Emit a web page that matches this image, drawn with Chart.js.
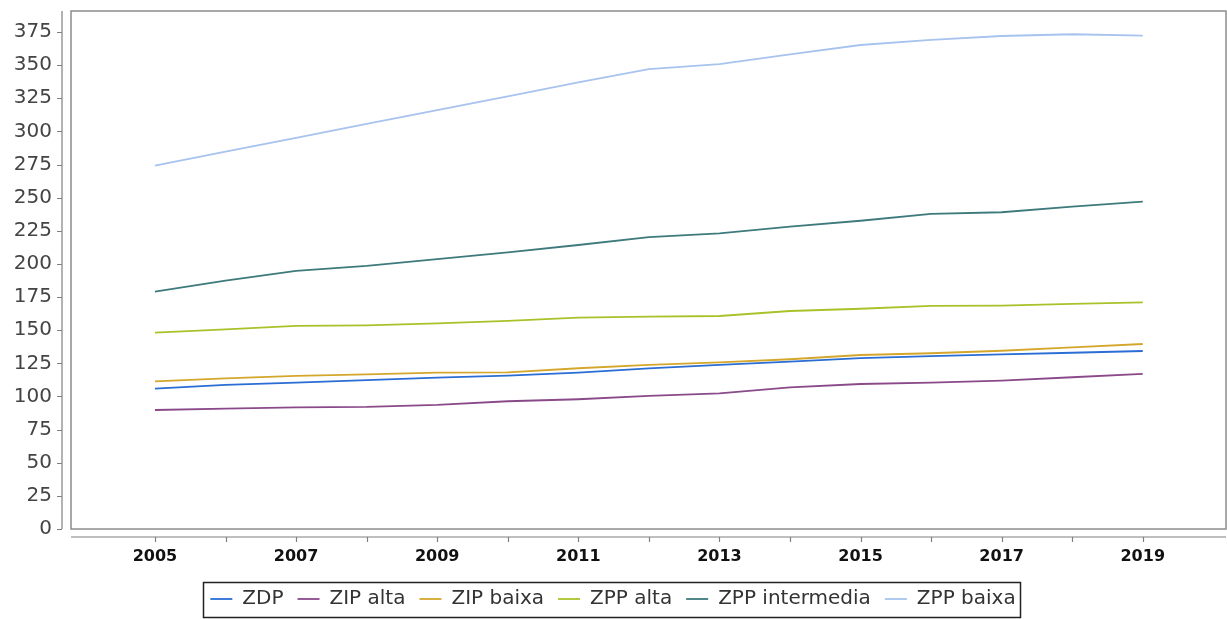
<!DOCTYPE html>
<html>
<head>
<meta charset="utf-8">
<script src="https://cdn.jsdelivr.net/npm/chart.js@4.4.1/dist/chart.umd.min.js"></script>
<style>
  html, body { margin: 0; padding: 0; background: #ffffff; }
  #wrap { width: 1227px; height: 619px; }
</style>
</head>
<body>
<div id="wrap"><canvas id="chart" width="1227" height="619"></canvas></div>
<script>
// anos (eixo x)
var years = [2005, 2006, 2007, 2008, 2009, 2010, 2011, 2012, 2013, 2014, 2015, 2016, 2017, 2018, 2019];

// series
var zdp           = [105.9, 108.7, 110.4, 112.4, 114.2, 115.7, 118.0, 121.2, 123.8, 126.3, 129.0, 130.5, 131.8, 133.0, 134.3];
var zipAlta       = [89.8, 90.8, 91.8, 92.1, 93.6, 96.4, 97.9, 100.5, 102.4, 106.9, 109.4, 110.4, 111.9, 114.5, 117.0];
var zipBaixa      = [111.4, 113.7, 115.5, 116.7, 118.0, 118.2, 121.3, 123.9, 125.8, 128.1, 131.3, 132.6, 134.5, 137.1, 139.6];
var zppAlta       = [148.1, 150.7, 153.2, 153.7, 155.2, 157.0, 159.5, 160.2, 160.7, 164.5, 166.2, 168.3, 168.5, 169.8, 171.0];
var zppIntermedia = [179.1, 187.4, 194.7, 198.5, 203.7, 208.8, 214.3, 220.2, 223.1, 228.1, 232.6, 237.7, 239.0, 243.2, 247.0];
var zppBaixa      = [274.1, 284.7, 295.2, 305.6, 316.0, 326.5, 337.0, 347.0, 350.7, 358.2, 365.2, 369.0, 372.0, 373.3, 372.3];

// nomes e cores das series
var seriesNames  = ['ZDP', 'ZIP alta', 'ZIP baixa', 'ZPP alta', 'ZPP intermedia', 'ZPP baixa'];
var seriesColors = ['#2a6dd4', '#8a4a8a', '#d4a72c', '#a9c22a', '#3e7a7c', '#a7c3ee'];

// ticks
var yTicks = [0, 25, 50, 75, 100, 125, 150, 175, 200, 225, 250, 275, 300, 325, 350, 375];
var xTicks = years;

var seriesData = [zdp, zipAlta, zipBaixa, zppAlta, zppIntermedia, zppBaixa];

var datasets = seriesNames.map(function (name, i) {
    return {
        label: name,
        data: seriesData[i],
        borderColor: seriesColors[i],
        backgroundColor: seriesColors[i],
        borderWidth: 1.8,
        pointRadius: 0,
        pointHoverRadius: 0,
        tension: 0,
        fill: false
    };
});

// moldura da area do grafico + eixos deslocados
var axisFrame = {
    id: 'axisFrame',
    beforeDatasetsDraw: function (chart) {
        var ctx = chart.ctx, a = chart.chartArea;
        var xs = chart.scales.x, ys = chart.scales.y;
        ctx.save();

        ctx.strokeStyle = '#8c8c8c';
        ctx.lineWidth = 1.5;
        ctx.strokeRect(a.left, a.top, a.right - a.left, a.bottom - a.top);

        // eixo y
        var ax = a.left - 9;
        ctx.strokeStyle = '#808080';
        ctx.lineWidth = 1.2;
        ctx.beginPath();
        ctx.moveTo(ax, a.top);
        ctx.lineTo(ax, a.bottom);
        yTicks.forEach(function (v) {
            var py = Math.round(ys.getPixelForValue(v)) + 0.5;
            ctx.moveTo(ax - 5, py);
            ctx.lineTo(ax, py);
        });
        ctx.stroke();

        // eixo x
        var ay = a.bottom + 8;
        ctx.beginPath();
        ctx.moveTo(a.left, ay);
        ctx.lineTo(a.right, ay);
        xTicks.forEach(function (v) {
            var px = Math.round(xs.getPixelForValue(v)) + 0.5;
            ctx.moveTo(px, ay);
            ctx.lineTo(px, ay + 5);
        });
        ctx.stroke();
        ctx.restore();
    },
    afterDraw: function (chart) {
        // caixa da legenda
        var lg = chart.legend;
        if (!lg || !lg.legendHitBoxes || !lg.legendHitBoxes.length) return;
        var l = Infinity, r = -Infinity, cy = 0;
        lg.legendHitBoxes.forEach(function (hb) {
            l = Math.min(l, hb.left);
            r = Math.max(r, hb.left + hb.width);
            cy = hb.top + hb.height / 2;
        });
        var ctx = chart.ctx;
        ctx.save();
        ctx.strokeStyle = '#222222';
        ctx.lineWidth = 1.5;
        ctx.strokeRect(Math.round(l - 7) + 0.5, Math.round(cy - 17.5) + 0.5, Math.round(r - l + 12), 35);
        ctx.restore();
    }
};

var ctx = document.getElementById('chart').getContext('2d');
var chart = new Chart(ctx, {
    type: 'line',
    data: { labels: years, datasets: datasets },
    options: {
        responsive: false,
        animation: false,
        devicePixelRatio: 1,
        layout: { padding: { top: 11, left: 0, right: 1, bottom: 0 } },
        plugins: {
            tooltip: { enabled: false },
            legend: {
                display: true,
                position: 'bottom',
                labels: {
                    usePointStyle: true,
                    pointStyle: 'line',
                    pointStyleWidth: 22,
                    padding: 14,
                    color: '#333333',
                    font: { family: 'DejaVu Sans', size: 20 }
                }
            }
        },
        scales: {
            x: {
                type: 'linear',
                min: 2003.81,
                max: 2020.18,
                grid: { display: false, drawTicks: false },
                border: { display: false },
                afterFit: function (s) {
                    s.height = 46;
                    s.paddingLeft = 0;
                    s.paddingRight = 0;
                },
                afterBuildTicks: function (s) {
                    s.ticks = xTicks.map(function (v) { return { value: v }; });
                },
                ticks: {
                    autoSkip: false,
                    maxRotation: 0,
                    padding: 18,
                    color: '#111111',
                    font: { family: 'DejaVu Sans', size: 16, weight: 'bold' },
                    callback: function (v) { return v % 2 === 1 ? String(v) : ''; }
                }
            },
            y: {
                min: 0,
                max: 390.85,
                grid: { display: false, drawTicks: false },
                border: { display: false },
                afterFit: function (s) {
                    s.width = 71;
                    s.paddingTop = 0;
                    s.paddingBottom = 0;
                },
                afterBuildTicks: function (s) {
                    s.ticks = yTicks.map(function (v) { return { value: v }; });
                },
                ticks: {
                    padding: 19,
                    color: '#444444',
                    font: { family: 'DejaVu Sans', size: 20 },
                    callback: function (v) { return String(v); }
                }
            }
        }
    },
    plugins: [axisFrame]
});
</script>
</body>
</html>
